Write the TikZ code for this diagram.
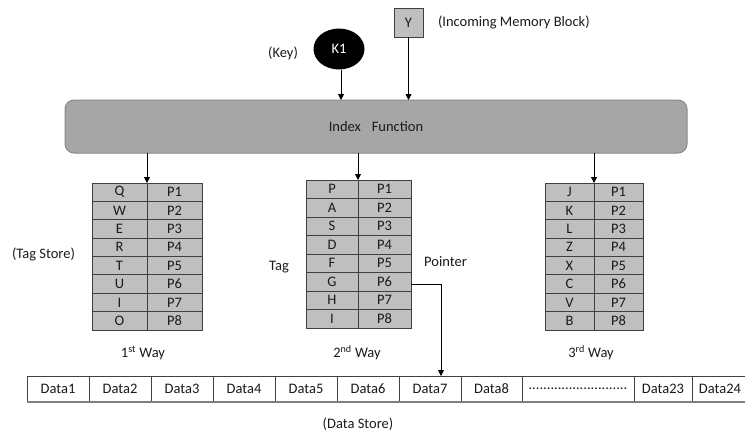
\documentclass[tikz,border=0pt]{standalone}
\usepackage{fontspec}
\setmainfont{Carlito}
\usetikzlibrary{arrows.meta,shapes.geometric}
\definecolor{idxfill}{HTML}{A6A6A6}
\definecolor{idxdraw}{HTML}{8A8A8A}
\definecolor{cellfill}{HTML}{BFBFBF}
\definecolor{celldraw}{HTML}{404040}
\definecolor{txt}{HTML}{1A1A1A}
\newcommand\waytable[7]{%
  % #1 name, #2 L, #3 D, #4 R, #5 T, #6 h, #7 tags
  \foreach \tg [count=\i] in {#7} {
    \pgfmathsetmacro\cy{#5+(\i-0.5)*#6}
    \pgfmathsetmacro\wa{#3-#2}
    \pgfmathsetmacro\wb{#4-#3}
    \node[cell, minimum width=\wa pt, minimum height=#6 pt] (#1t\i) at ({(#2+#3)/2},\cy) {\tg};
    \node[cell, minimum width=\wb pt, minimum height=#6 pt] (#1p\i) at ({(#3+#4)/2},\cy) {P\i};
  }
}
\begin{document}
\begin{tikzpicture}[x=1pt,y=-1pt,
  font=\fontsize{14.5}{16}\selectfont,
  every node/.style={text=txt, inner sep=0pt, outer sep=0pt},
  cell/.style={draw=celldraw, fill=cellfill, line width=0.8pt},
  dcell/.style={draw=celldraw, fill=white, line width=0.7pt, minimum height=26pt},
  arr/.style={draw=black, line width=0.8pt, -{Triangle[width=6pt,length=6pt]}},
  lbl/.style={}]
\useasboundingbox (0,0) rectangle (745,434);

% inputs
\node[draw=celldraw, fill=cellfill, line width=0.8pt, minimum width=29pt, minimum height=29pt] (y) at (408.5,22.5) {Y};
\node[lbl, anchor=west] (ylbl) at (438,22) {(Incoming Memory Block)};
\node[ellipse, fill=black, minimum width=51pt, minimum height=41pt] (k1) at (339,49) {\textcolor{white}{K1}};
\node[lbl] (keylbl) at (283,53) {(Key)};

% index function
\node[draw=idxdraw, fill=idxfill, line width=1pt, rounded corners=9pt, minimum width=622pt, minimum height=53pt] (idx) at (376,126.5) {Index\hspace{0.75em}Function};

\draw[arr] (k1.south -| 341,0) -- (idx.north -| 341,0);
\draw[arr] (y.south) -- (idx.north -| y.south);

% tables
\waytable{a}{92}{147}{202}{183}{18.375}{Q,W,E,R,T,U,I,O}
\waytable{b}{306}{358}{411}{180}{18.5}{P,A,S,D,F,G,H,I}
\waytable{c}{545}{594}{643}{183}{18.375}{J,K,L,Z,X,C,V,B}

\draw[arr] (idx.south -| at1.north east) -- (at1.north east);
\draw[arr] (idx.south -| bt1.north east) -- (bt1.north east);
\draw[arr] (idx.south -| ct1.north east) -- (ct1.north east);

% labels
\node[lbl] (tagstore) at (43.5,254) {(Tag Store)};
\node[lbl] (taglbl) at (279,267) {Tag};
\node[lbl] (ptrlbl) at (445.5,262) {Pointer};
\node[lbl] (way1) at (143,353) {1\textsuperscript{st} Way};
\node[lbl] (way2) at (357,353) {2\textsuperscript{nd} Way};
\node[lbl] (way3) at (591,353) {3\textsuperscript{rd} Way};

% data store
\foreach \l/\r/\t [count=\j] in {27/89/Data1,89/151/Data2,151/213/Data3,213/275/Data4,275/337/Data5,337/399/Data6,399/461/Data7,461/522/Data8,522/634/{...........................},634/692/Data23,692/748/Data24} {
  \pgfmathsetmacro\dw{\r-\l}
  \node[dcell, minimum width=\dw pt] (d\j) at ({(\l+\r)/2},389) {\t};
}
\draw[draw=gray, line width=1.4pt] (d1.south west) -- (d11.south east);
\node[lbl] (dslbl) at (358,424) {(Data Store)};

% pointer connector
\coordinate (drop) at (441,376);
\draw[arr] ([yshift=-3pt]bp6.east) -| (drop);
\end{tikzpicture}
\end{document}
